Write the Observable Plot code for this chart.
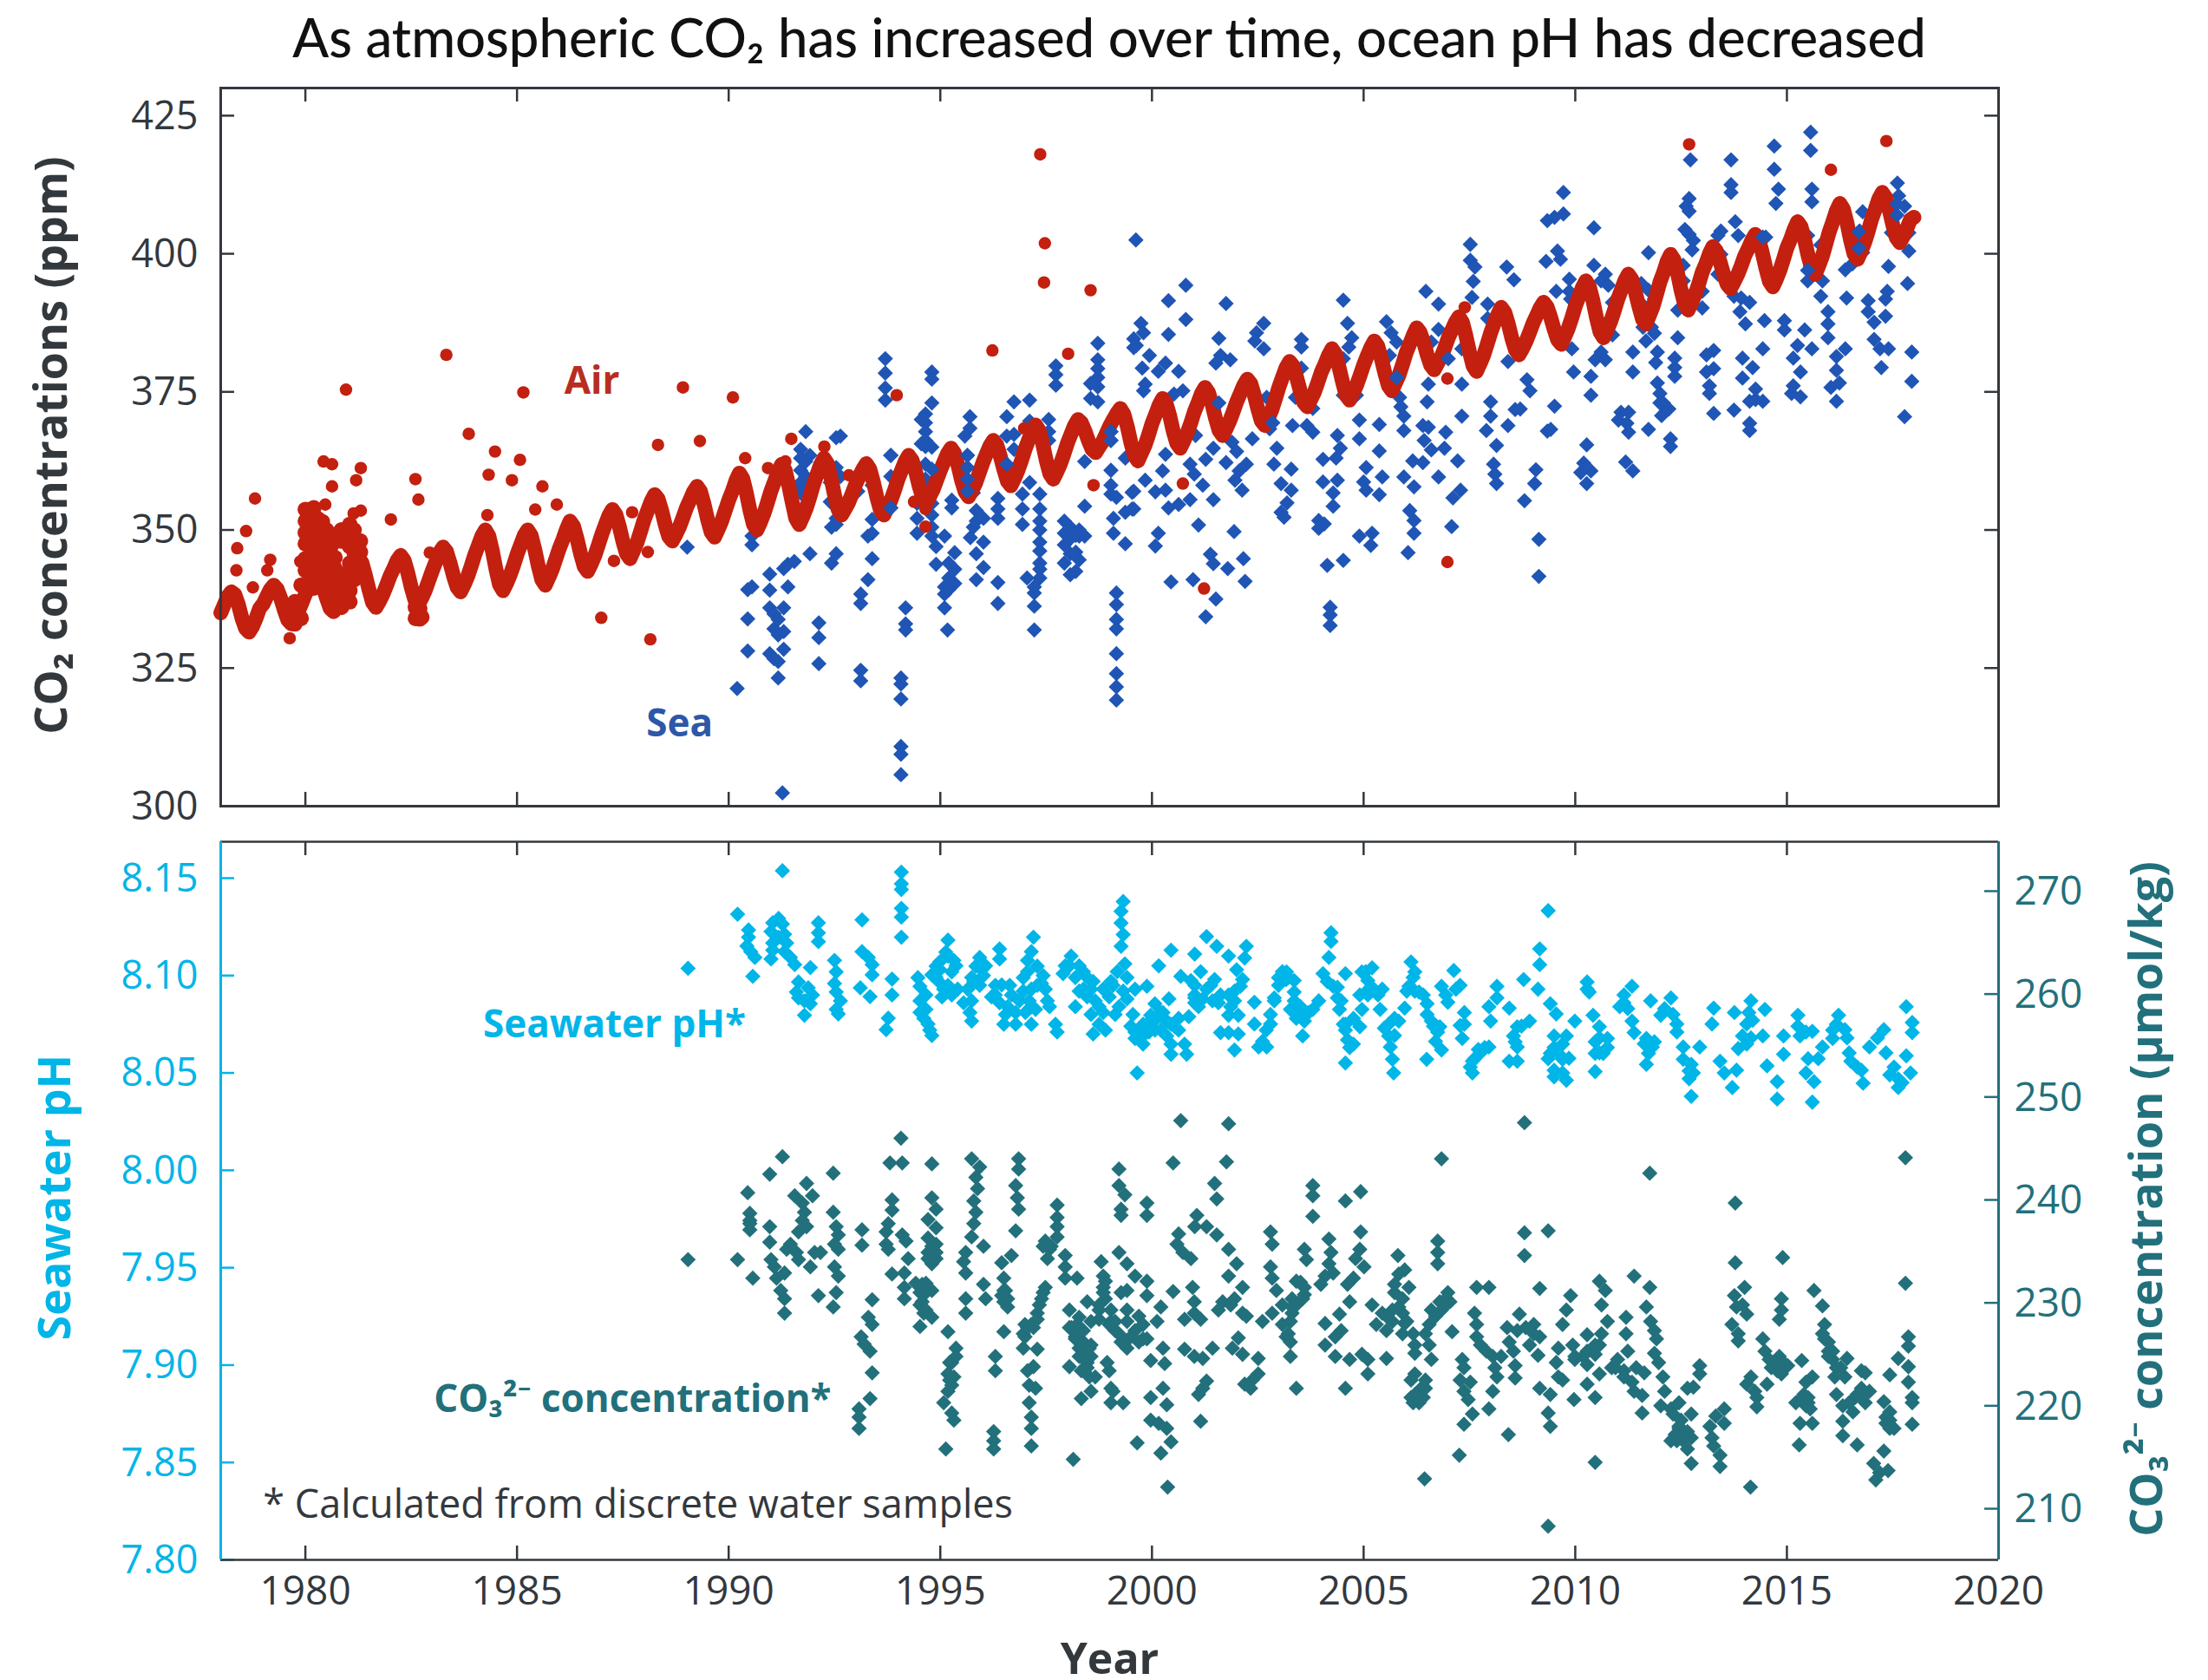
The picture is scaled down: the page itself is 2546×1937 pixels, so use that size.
<!DOCTYPE html>
<html>
<head>
<meta charset="utf-8">
<script src="https://cdn.jsdelivr.net/npm/d3@7"></script>
<script src="https://cdn.jsdelivr.net/npm/@observablehq/plot@0.6"></script>
<style>
html,body{margin:0;padding:0;background:#fff;overflow:hidden}
#page{position:relative;width:2546px;height:1937px}
#page svg{position:absolute;left:0;top:0}
#title{position:absolute;left:6px;width:2546px;text-align:center;top:5px;font:500 61.6px Lato,sans-serif;color:#111}
</style>
</head>
<body>
<div id="page"><div id="title">As atmospheric CO₂ has increased over time, ocean pH has decreased</div></div>
<script>
const yearTicks = [1980,1985,1990,1995,2000,2005,2010,2015,2020];
const ppmTicks = [300,325,350,375,400,425];
const phTicks = [7.80,7.85,7.90,7.95,8.00,8.05,8.10,8.15];
const co3Ticks = [210,220,230,240,250,260,270];

// Air: monthly values, January onward
const air1978 = [335,336.5,338,338.8,338.3,336.5,334,332.2,331.5,332.5,334,335.8, 336.6,337.9,339.2,340,339.3,337.6,335.5,333.7,333,334.1,335.3,336.8, 338.4,339.8,341,342,341.3,339.6,337.6,335.8,335.2,336.4,337.6,339.3, 341,342.4,344,345,344.1,341.8,339.2,336.9,336,337.1,338.4,340, 341.7,343,344.5,345.4,344.5,342.3,339.6,337.4,336.5,337.7,339.1,340.9, 342.7,344.3,345.9,346.9,346.1,344,341.6,339.6,338.8,340.1,341.6,343.5, 345.5,347.2,348.9,350,348.9,346.2,342.9,340.1,339,340.3,341.8,343.6, 345.6,347.3,349,350,349,346.5,343.5,341,340,341.4,342.9,344.8, 346.7,348.3,350.1,351.6,350.7,348.4,345.7,343.4,342.5,343.8,345.3,347.2, 349.2,350.9,352.6,353.7,352.8,350.6,347.9,345.7,344.8,346.2,347.7,349.7];
const air1988 = [351.8,353.5,355.2,356.4,355.6,353.5,350.9,348.8,348,349.2,350.5,352.2, 354,355.4,356.9,357.9,357,354.7,351.9,349.6,348.7,350.1,351.6,353.5, 355.4,357,358.9,360.3,359.3,356.7,353.6,351,350,351.4,353,355, 357.1,358.8,360.6,361.9,360.8,358.1,355,352.1,351,352.4,354,356, 358.2,360,361.8,363,362,359.4,356.3,353.7,352.7,353.8,355,356.6, 358.3,359.7,361,362,361,358.7,355.9,353.6,352.7,354,355.4,357.2, 359.2,360.8,362.4,363.5,362.6,360.5,357.9,355.8,354.9,356.1,357.4,359.1, 360.8,362.3,363.8,364.8,363.9,361.7,359,356.9,356,357.2,358.5,360.3, 362.1,363.7,365.2,366.2,365.4,363.3,360.9,358.8,358,359.3,360.8,362.6, 364.6,366.3,367.9,369,368,365.6,362.6,360.2,359.2,360.5,361.9,363.7];
const air1998 = [365.7,367.3,368.9,370,369.4,367.9,366.1,364.6,364,365,366,367.4, 368.8,370,371.1,372,371,368.7,365.8,363.5,362.5,363.9,365.3,367.2, 369.3,370.9,372.6,373.8,372.9,370.7,367.9,365.7,364.8,366.1,367.6,369.4, 371.4,373,374.7,375.8,374.9,372.8,370.2,368,367.1,368.3,369.7,371.4, 373.2,374.7,376.2,377.3,376.5,374.4,371.9,369.7,368.9,370.3,371.8,373.8, 375.9,377.7,379.4,380.5,379.7,377.6,375.2,373.1,372.3,373.6,374.9,376.7, 378.6,380,381.6,382.8,381.9,379.5,376.8,374.4,373.5,374.8,376.2,378, 379.9,381.5,383,384.2,383.3,381,378.4,376.1,375.2,376.6,378,379.9, 382,383.6,385.2,386.6,385.8,384,381.7,379.8,379,380.2,381.4,383, 384.8,386.2,387.6,388.6,387.6,385.1,382.2,379.7,378.7,380.1,381.6,383.6];
const air2008 = [385.7,387.4,389,390.3,389.4,387.3,384.7,382.6,381.7,382.8,384.1,385.7, 387.4,388.8,390.2,391.2,390.4,388.5,386.3,384.4,383.6,385,386.5,388.4, 390.5,392.2,393.9,395.1,394,391.5,388.4,385.8,384.8,386.2,387.7,389.6, 391.7,393.4,395.1,396.3,395.4,393.1,390.5,388.2,387.3,388.8,390.4,392.6, 394.9,396.6,398.6,399.9,398.9,396.4,393.3,390.8,389.8,391.2,392.7,394.6, 396.7,398.2,400,401.3,400.5,398.6,396.4,394.5,393.7,394.9,396.2,397.8, 399.6,400.9,402.4,403.5,402.6,400.2,397.4,395,394,395.4,397,399, 401.1,402.6,404.4,405.8,404.9,402.5,399.6,397.3,396.3,397.8,399.5,401.7, 404,405.8,407.8,409.1,408.1,405.6,402.5,400,399,400.4,402,404, 406.3,408,409.9,411.1,410.2,407.9,405.2,402.9,402,403.2,404.6,406.2, 406.6];
// Air: rows of [year, ppm, ppm, ...]
const airCluster = [[1979.75,333,335,337],[1979.9,334,337,340],[1980,353.7,351.6,349.5,347.5,344.8,342.7],[1980.1,353.7,352,350,347,345,342,340],[1980.2,354,351.5,349,346.5,344,341.5,339.5],[1980.3,352,350,348,345,343,341],[1980.4,351.5,349,347,345,342,340],[1980.5,350,348,346,344,341],[1980.6,349,347,344,342,339],[1980.7,348,345,343,341,339],[1980.85,350,348,342,340,338,336],[1981.05,351,349,347,344,341,339,337],[1981.15,350,348,346,343,341],[1981.3,348,346,344,342],[1982.6,338,336,334],[1982.7,335.7,333.9],[1982.75,334.2]];
const airOutliers = [[1978.81,355.7],[1978.6,349.8],[1978.39,346.7],[1978.37,342.7],[1978.76,339.6],[1979.17,344.6],[1979.1,342.7],[1979.63,330.4],[1979.88,344.3],[1980.96,375.4],[1980.43,362.4],[1980.63,361.9],[1981.31,361.2],[1981.2,359],[1980.63,357.9],[1980.47,354.6],[1981.14,353],[1981.31,353.5],[1982.6,359.2],[1982.67,355.5],[1982.02,351.9],[1982.94,345.9],[1983.33,381.7],[1983.86,367.4],[1984.48,364.2],[1985.07,362.7],[1984.33,360],[1984.88,359],[1985.6,357.9],[1985.43,353.7],[1985.94,354.6],[1985.15,374.9],[1986.99,334.1],[1988.15,330.2],[1988.92,375.8],[1990.1,374],[1988.33,365.4],[1989.32,366.1],[1987.29,344.4],[1988.09,346],[1987.72,353.2],[1984.3,352.7],[1996.23,382.5],[1998.02,381.9],[1993.97,374.4],[1991.48,366.5],[1990.39,363],[1990.93,361.2],[1991.34,362.4],[1992.26,365.1],[1992.84,359.9],[1998.62,358.1],[1994.65,350.6],[1996.98,368.4],[1994.38,355.1],[1994.65,353.8],[1997.36,418],[1997.47,401.9],[1997.45,394.8],[1998.55,393.4],[2000.73,358.4],[2001.23,339.4],[2006.98,344.2],[2006.98,377.4],[2007.39,390.3],[2012.69,419.8],[2016.04,415.2],[2017.35,420.4]];

// Sea: rows of [year, ppm, ppm, ...]
const seaEarly = [[1989.02,346.9],[1990.2,321.3],[1990.45,339.2,333.9,328.1],[1990.55,348.9,347.3,339.7],[1990.97,342,339.1,335.9,327.6],[1991.07,334.8,332.1,326.7],[1991.17,333.8,331,326.2,323.2],[1991.3,343,335.9,331.6,328.4],[1991.4,343.8,339.7],[1991.55,344.3],[1991.27,302.4],[1991.6,352.7,357],[1991.7,364.6,363,360.8,358.6,356.7],[1991.82,367.8,362.4,359.7,357.6,355.9],[1991.92,345.7,363.5,357.6],[1992.13,333.2,330.5,325.8],[1992.43,350.5,344],[1992.54,366.7,361.3,352.1,351,345.7],[1992.64,367,359.7],[1992.4,358.6,355.1],[1993.12,338.4,336.7,324.6,322.7],[1993.29,348.9,341,361.9],[1993.39,351.9,349.4,344.8,358.1],[1993.05,357],[1993.7,381,378.4,375.7,373.5],[1993.83,363.5,359.7,354],[1994.07,323.2,322.1,319.4,310.8,309.4,305.7],[1994.18,335.9,333,331.9],[1994.45,354.8,352.1,349.4],[1994.8,378.6,377.3,373],[1994.65,371,369.4,367.8,366.2,365.1,361.9,359.2],[1994.55,370,365.6],[1994.8,354.8,352.7,350.5,348.9],[1994.9,347,343.8],[1995.1,348.9,335.9,338.4,339.7],[1995.17,331.9],[1995.2,344,341.3,339.2],[1995.34,345.9,342.9,340.3],[1995.27,355.4,354],[1995.7,370.5,368.4],[1995.58,367],[1995.64,363.5,361.3,359.2,357,356.2],[1995.78,356.7,350.5],[1995.85,353.5,351.6,345.7,341],[1995.71,348.6],[1996.02,352.1,347.8,343.2],[1996.36,340.5,336.7,355.7,353.8,352.1],[1996.57,370.5,367,361.9,359.7],[1996.74,373.2,367.3,364.6],[1997.11,373.5,369.7,358.6],[1996.94,356.5,353.8,351],[1997.35,356.5,353.8,351.6,350,347.8,346.2,344,342.9,341.3],[1997.22,339.7,338.6,336.2,331.9],[1997.05,341.3],[1997.56,370,367.8,366.2],[1997.73,379.7,378.1,376.2],[1997.93,351.6,349.4,347.3,344],[1998.07,350.5,348.4,345.7,341.9],[1998.2,349,346,342.5],[1998.28,350,348.9,344.6],[1998.41,362.4,354.3,348.9],[1998.72,383.8,380.8,379.2,377.6,375.9,373.2],[1998.55,376.5,373.8],[1999.03,367.8,366.2,360.8,358.1,356.5],[1999.16,355.9,338.6,336.5,333.8,332.1,327.6,324,321.6,319.2],[1999.09,352.1,349.4],[1999.37,363,353.2,347.5],[1999.57,384.6,383,357,353.8]];
const seaMid = [[1999.62,402.5],[1999.74,387.4],[1999.63,383.4],[1999.8,385.7],[1999.94,381.6],[1999.77,379.3],[1999.84,376.4],[1999.8,375.2],[2000.15,378.7],[2000.32,380.2],[2000.63,378.7],[2000.39,391.5,385.4],[2000.8,394.3,388.1],[2000.73,375.2],[2000.52,374.6],[2000.32,363.7],[2000.25,360.7],[1999.84,359],[2000.08,356.9],[2000.32,357.2],[1999.53,356.8,353.8],[2000.39,354],[2000.63,354.6],[2000.9,355.5,361.9],[2000.15,349.4],[2000.08,347.1],[2001.1,350.9],[2000.45,340.6],[2000.97,341],[2001.38,345.6],[2001.45,343.9],[2001.51,337.5],[2001.27,334.3],[2001.79,343],[2002.16,344.8],[2002.2,340.7],[2001.94,349.7],[2001.45,355.5,364.8],[2001.2,358.1],[2001,360.1],[2001.27,362.8],[2001.03,367.1],[2001.75,362.2,391],[2001.89,365.9],[2002,364.2],[2002.06,360.7],[2001.96,359],[2002.13,357.2],[2002.23,361.9],[2001.58,384.7],[2001.62,381.6],[2001.51,380.2],[2001.85,380.8],[2002.64,387.4,382.8],[2002.47,385.7],[2002.43,384.2],[2003.53,384.5,383.1,379.3],[2002.37,366.5],[2002.95,364.8],[2002.88,361.9],[2003.29,361,357.2],[2003.05,358.4,353.2],[2003.19,354.9],[2003.12,352.3],[2002.71,374],[2002.85,369.4],[2002.78,368.3],[2003.39,374],[2003.32,368.9],[2003.66,368.9],[2003.8,367.7,372],[2004.52,391.6,381,374.4,344.5],[2004.62,387.4],[2004.72,384.8],[2004.65,383.1],[2004.9,377.6,369.9,366.5,348.9],[2004.83,374.4],[2005.37,369.1,364.3,356.4],[2004.38,367.1,359],[2004.45,364.8],[2004.35,363],[2004.04,362.8,358.7],[2005.06,361.3,357.2],[2005.44,359.6],[2005,358.7],[2004.28,356.7,354.3],[2003.94,351.7,350.3],[2004.07,351.1],[2005.2,349.4],[2005.17,347.2],[2004.14,343.6],[2004.21,336,334.6,332.7],[2005.54,387.7],[2005.65,385.7],[2005.78,384,377.6],[2005.61,381.6],[2005.85,374],[2005.88,372.3],[2005.95,370.6,368,359.6],[2006.16,362.5],[2006.4,362.2,368.9],[2006.19,357.8,351.7,349.4],[2006.09,353.5],[2006.05,345.9],[2006.47,393.2],[2006.77,390.9,386.3,359.6],[2006.6,384,364.5],[2006.53,376.4,368.6],[2006.5,373.2],[2006.43,366.2],[2006.94,367.7],[2006.91,364.8],[2007.22,362.5],[2007.29,357.2],[2007.11,355.8],[2007.08,350.6],[2007.32,376.4,370.6,382.8],[2007.52,401.7,398.8],[2007.63,397.6],[2007.59,395],[2007.56,392.1],[2007.93,390.9,388.3],[2008,373.2,370.6],[2007.9,368],[2008.14,365.3,358.4],[2008.07,361.9],[2008.1,360.1],[2008.41,380.5,368.9],[2008.58,371.8],[2008.55,395.3],[2008.38,397.6]];
const seaLate = [[2009.72,411.1],[2009.34,406],[2009.51,406.6],[2009.72,407.2,385],[2009.31,398.6],[2009.58,400.5],[2009.65,399],[2010.44,404.7,397.9],[2009.86,395.4,393.2],[2009.55,393.2,385],[2009.89,391.8],[2009.92,382.8],[2008.86,377.2],[2008.93,375.2],[2009.96,378.6],[2009.51,372.4],[2009.34,367.9],[2009.42,368.2],[2009.07,360.9],[2009.04,358.4],[2008.8,355.3],[2009.14,348.3,341.6],[2008.7,371.9],[2010.71,396.3,380.8],[2010.61,395.1,382.2],[2010.78,394.3],[2010.88,391.2,385.3],[2010.85,388.4],[2010.64,386.4],[2010.47,380.8],[2010.37,377.8,374.4,360.7],[2010.27,365.4,358.4],[2010.2,362.1],[2010.13,360.4],[2011.08,371.3],[2011.26,371.3,367.7],[2011.02,369.9],[2011.22,369.3],[2011.19,362.3],[2011.36,360.7,382.2,378.6],[2011.73,368.2,400.2,393.4],[2012.25,366.5,365.1],[2011.94,382.2,376.6],[2011.9,380.3],[2012,374.7],[2012.08,373],[2012.04,370.7],[2012.21,371.9],[2012.35,381.1,379.4,377.8],[2011.56,394.6],[2011.6,390.7,386.7],[2011.87,391.8,385.6],[2011.8,386.7],[2011.67,384.2],[2012.42,389.8,384.8],[2012.72,417],[2012.69,410,407.7,403.5],[2012.62,408.6],[2012.59,404.4],[2012.79,402.4],[2012.76,400.7],[2012.55,397.9,395.1,393.2],[2013,393.2,390.2],[2013.68,417,412.5,411.1],[2013.44,404.1,399.9],[2013.37,403.3,396.3],[2013.78,405.8],[2013.85,403.3],[2013.75,392.3,371.7],[2013.92,392],[2014.12,391.2,373.3,369.3,368],[2013.89,389.5],[2014.02,387.3],[2014.47,387.9],[2014.43,382.8,373.3],[2013.27,382.5,379.2,371.1],[2013.1,381.7,378.6],[2013.17,376.1,374.7],[2013.95,381.1,377.5],[2014.19,379.4],[2014.26,375.5,373.6],[2014.7,419.5,415.3],[2014.8,411.7],[2014.74,409.1],[2014.5,403],[2015.56,422,418.7],[2015.59,411.7,409.4,382.8],[2015.49,403.3,400.2,395.1],[2015.56,397.7],[2015.8,401.6,392.3],[2015.84,395.1],[2015.97,389.5,387.3,384.8],[2016.41,392],[2014.94,387.9,386.2],[2015.42,386.2],[2015.25,383.4],[2015.15,381.1,376.1],[2015.32,378.6,374.1],[2015.11,374.7],[2016.38,382.8,397.1],[2016.17,381.4,378.9,373.3],[2016.24,376.6],[2016.04,375.8],[2016.79,407.6,400.2],[2016.72,404.1],[2016.62,401.9],[2016.55,398.2],[2016.92,391.5,389.5],[2017.06,387.6,384.5],[2017.2,382.8],[2017.4,382.8,397.7],[2017.23,379.4],[2017.37,393.2],[2017.33,391.8,388.7],[2017.61,412.8],[2017.64,410.5],[2017.5,408.6],[2017.78,408.6,370.5],[2017.47,403.8],[2017.88,403.8,400.5],[2017.85,394.6],[2017.95,382.2,376.9]];
const seaOnTop = [[1995.64,363.5,361.3,359.2,357],[1993.83,363.5,354],[1994.8,365,361],[1996.57,361.9],[1999.03,367.8,366.2],[2001.58,373],[2002.85,369.4],[2005.78,377.6],[2007.0,381],[2012.0,373],[2014.43,403],[2015.49,397],[2016.7,404,401],[2017.6,409,407]];

// Seawater pH: rows of [year, pH, pH, ...]
const phEarly = [[1989.04,8.1037],[1990.21,8.1315],[1990.47,8.1234,8.1197],[1990.43,8.1152],[1990.52,8.1123],[1990.62,8.1093],[1990.57,8.0996],[1991.18,8.1293,8.1197],[1991.04,8.1271,8.1167,8.113],[1991.27,8.1264,8.1538],[1991,8.1226,8.1085],[1991.32,8.1212,8.1123],[1991.37,8.1167],[1991.46,8.1093],[1991.56,8.1056],[1992.12,8.1271,8.1219,8.1174],[1991.93,8.1041,8.0855],[1991.65,8.0967,8.0885],[1991.6,8.0915],[1991.88,8.0937],[1991.98,8.09],[1991.79,8.087,8.0796],[1992.5,8.1078,8.0959],[1992.54,8.1019,8.0915,8.0826],[1992.64,8.087],[1992.59,8.0803],[1993.15,8.1286,8.1123],[1993.3,8.1093],[1993.39,8.1056,8.1004],[1993.11,8.0937],[1993.34,8.0892],[1993.86,8.0982,8.09],[1993.77,8.0781],[1993.72,8.0722],[1994.08,8.1531,8.1471,8.1442,8.1345,8.13,8.1197],[1994.47,8.0989],[1994.52,8.0944,8.0811],[1994.9,8.1048],[1994.8,8.1004,8.0692],[1994.66,8.09,8.0826],[1994.71,8.0751],[1995.18,8.1182,8.11],[1994.99,8.1071],[1995.32,8.1078],[1995.27,8.1019,8.09],[1994.94,8.0974],[1995.08,8.093],[1995.93,8.1093],[1995.84,8.1048],[1995.74,8.099,8.087,8.0766],[1996.02,8.1],[1995.65,8.093],[1995.7,8.081],[1996.4,8.1137,8.1085],[1996.45,8.0952],[1996.3,8.09],[1996.59,8.084],[1996.5,8.075],[1996.78,8.075,8.081],[1996.68,8.09],[1997.2,8.1197],[1997.15,8.1123,8.093,8.075],[1997.06,8.1078],[1997.29,8.1048],[1996.96,8.0989],[1997.39,8.096],[1997.1,8.087],[1997.25,8.0826],[1997.58,8.084],[1997.72,8.075],[1997.76,8.071],[1998.09,8.11],[1998.05,8.105],[1997.9,8.101],[1998.19,8.099,8.084],[1998.47,8.099,8.089],[1998.61,8.097,8.07],[1998.38,8.093],[1998.66,8.087],[1998.56,8.08],[1998.75,8.075],[1998.9,8.072]];
const phMid = [[1999.32,8.138,8.121,8.092],[1999.27,8.133,8.127,8.115],[1999.36,8.106],[1999.18,8.102],[1999.41,8.099],[1999.08,8.095],[1998.99,8.089],[1999.22,8.084],[1999.13,8.08],[1999.55,8.08],[1999.65,8.05],[1999.88,8.0945,8.0751],[2000.16,8.105],[2000.45,8.113,8.0648,8.0596],[2000.68,8.0996],[2001.01,8.111],[2001.29,8.12],[2001.53,8.115],[2001.81,8.11],[2002.23,8.115],[2002.19,8.109],[2002,8.103],[2001.15,8.102],[2001.48,8.098],[2000.07,8.0855,8.072],[2000.21,8.081],[1999.69,8.0707],[1999.6,8.0677],[1999.79,8.0648],[2000.35,8.0766,8.069],[2000.63,8.078],[2000.87,8.0789],[2000.54,8.0737],[2000.77,8.0648],[2000.82,8.0596],[1999.97,8.0796],[2000.92,8.0974],[2001.01,8.09,8.0886],[2001.1,8.084],[2001.29,8.093],[2001.43,8.087],[2001.62,8.09],[2001.81,8.09,8.0796,8.0707],[2002.09,8.0945],[2001.95,8.087],[2002.04,8.0796,8.0700],[2001.62,8.0707],[2001.95,8.0618],[2002.42,8.0863],[2002.42,8.0751],[2002.61,8.0662],[2002.71,8.0633],[2002.52,8.0633],[2002.99,8.0989],[2003.18,8.1019],[2002.89,8.0885],[2002.8,8.0751],[2003.36,8.0974],[2003.27,8.0826],[2003.22,8.099],[2003.36,8.0915,8.087],[2003.46,8.081],[2003.8,8.0826],[2003.6,8.0766],[2003.56,8.069]];
const phLate = [[2004.23,8.122,8.1175],[2004.18,8.1093],[2004.04,8.101],[2004.57,8.101,8.075,8.0551],[2004.28,8.0945],[2004.38,8.0885],[2004.43,8.0826],[2004.76,8.078,8.0648],[2004.52,8.075],[2004.91,8.0737],[2004.62,8.067],[2004.96,8.1019,8.0826],[2005.2,8.104],[2005.1,8.0974],[2005.05,8.0915],[2005.44,8.093],[2005.39,8.0826],[2005.97,8.0833],[2005.83,8.0766],[2005.49,8.073],[2005.73,8.0692],[2005.63,8.0633],[2005.68,8.057],[2005.71,8.05],[2006.12,8.107],[2006.21,8.1019],[2006.07,8.0945],[2006.31,8.0915],[2006.5,8.0855],[2006.6,8.0766],[2006.8,8.0737],[2006.7,8.0662],[2006.84,8.0618,8.0945],[2006.49,8.057],[2007.13,8.1026],[2007.28,8.095,8.0744],[2006.99,8.0863],[2007.38,8.081],[2007.33,8.0677],[2008.15,8.0945,8.0885],[2007.96,8.084,8.0633],[2008,8.0766],[2008.44,8.0833,8.056],[2008.92,8.0766],[2008.63,8.0737,8.0633,8.056],[2008.54,8.069],[2007.76,8.0603],[2007.62,8.0573],[2007.57,8.05],[2008.78,8.098],[2009.16,8.1137,8.1056],[2009.12,8.093],[2009.41,8.0855],[2009.55,8.0803],[2009.99,8.0766],[2009.5,8.069,8.0514],[2009.7,8.0648,8.0499],[2009.36,8.0573,8.1333],[2009.79,8.0462],[2009.6,8.06],[2009.85,8.0575],[2010.28,8.0967],[2010.33,8.0915],[2010.42,8.0796],[2010.57,8.0737,8.0603],[2010.76,8.0677],[2010.47,8.0507],[2011.34,8.0945,8.0766],[2011.15,8.09],[2011.05,8.084],[2011.39,8.0707],[2011.78,8.087],[2012.26,8.0885],[2012.02,8.0796],[2011.68,8.0677,8.0544],[2011.82,8.0633],[2012.4,8.0751],[2012.55,8.0633],[2012.74,8.0544,8.038],[2012.69,8.047],[2012.94,8.0633],[2013.27,8.0833],[2013.23,8.0751],[2013.42,8.056],[2013.52,8.05],[2013.81,8.0514],[2013.71,8.0425],[2013.76,8.081],[2014.15,8.087],[2014.48,8.0826],[2014.05,8.0751,8.0648],[2014.43,8.069],[2013.85,8.0625],[2014.92,8.069,8.0596],[2014.53,8.0536],[2014.77,8.0455,8.0366],[2015.26,8.0796],[2015.6,8.0714,8.035],[2015.31,8.069],[2015.5,8.0573],[2015.74,8.0573],[2015.45,8.05],[2015.64,8.0455],[2016.22,8.0796],[2016.37,8.0722],[2016.08,8.0677],[2015.84,8.0633],[2016.47,8.0603],[2016.76,8.0514],[2016.8,8.0447],[2017.29,8.0722],[2016.95,8.0633],[2017.34,8.0603],[2017.53,8.053],[2017.63,8.0425],[2017.92,8.05],[2017.82,8.0588,8.084],[2017.96,8.0707,8.0759]];
const phDense1 = [[1994.52,8.087],[1994.61,8.078],[1994.75,8.072],[1994.9,8.099],[1994.99,8.103],[1995.13,8.112],[1995.37,8.105],[1995.04,8.089],[1995.18,8.095],[1995.41,8.093],[1995.55,8.086],[1995.79,8.097],[1996.07,8.105],[1995.93,8.095],[1995.98,8.103],[1996.3,8.095],[1996.21,8.089],[1996.4,8.086],[1996.64,8.095],[1996.54,8.08],[1996.87,8.087],[1996.96,8.092],[1997.06,8.102],[1997.29,8.095],[1997.43,8.1],[1997.48,8.093],[1997.01,8.081],[1997.15,8.084],[1997.53,8.087],[1999.5,8.074],[1999.79,8.075],[2000.07,8.077],[2000.26,8.081],[2000.45,8.075],[1999.74,8.068],[1999.93,8.071],[2000.21,8.072],[1999.6,8.071,8.093],[2000.63,8.072],[2000.4,8.088],[1999.03,8.097],[1999.41,8.088],[1998.85,8.093,8.081],[1998.75,8.084],[1998.56,8.093],[1998.28,8.105,8.092],[1998.38,8.102],[1997.95,8.105],[2001.01,8.095,8.086],[2001.2,8.088],[2001.39,8.095],[2001.57,8.086],[2001.95,8.092],[2002.14,8.098],[2001.86,8.084],[2002.99,8.095],[2003.08,8.102],[2003.17,8.098],[2002.89,8.087],[2002.8,8.08],[2002.7,8.072]];
const phDense2 = [[2003.51,8.084],[2003.41,8.078],[2003.7,8.081],[2003.94,8.087],[2004.14,8.097],[2004.38,8.094],[2004.47,8.087],[2004.57,8.072],[2004.67,8.063],[2004.91,8.09],[2005.1,8.09],[2005.05,8.102],[2005.2,8.094],[2005.34,8.09],[2005.59,8.069,8.075],[2005.73,8.078],[2006.17,8.099],[2006.21,8.092],[2006.02,8.092],[2006.41,8.09],[2006.5,8.08],[2006.65,8.074],[2006.75,8.071],[2006.94,8.09],[2007.18,8.093],[2007.38,8.075],[2007.71,8.062],[2007.86,8.063],[2007.57,8.056],[2007.52,8.053],[2008.58,8.066],[2008.73,8.074],[2009.5,8.063,8.048],[2009.79,8.069],[2009.7,8.057,8.05],[2009.41,8.06],[2010.57,8.068],[2010.76,8.063],[2010.47,8.066,8.06],[2010.66,8.06],[2010.28,8.093],[2011.15,8.086],[2011.24,8.083],[2011.63,8.065],[2011.73,8.06],[2011.87,8.066],[2012.11,8.083],[2012.31,8.08],[2012.4,8.071],[2012.55,8.057],[2012.69,8.051],[2012.79,8.05],[2014.1,8.081],[2013.95,8.069],[2014.15,8.068],[2014.19,8.077],[2015.26,8.074],[2015.45,8.071],[2016.17,8.075],[2016.08,8.072],[2016.42,8.068],[2016.51,8.056],[2016.66,8.053],[2017.14,8.068],[2017.72,8.045],[2017.63,8.047],[2017.43,8.049]];

// CO3 2- concentration: rows of [year, value, value, ...]
const co3Early = [[1989.04,234.2],[1990.21,234.2],[1990.45,240.7],[1990.5,238.7,238,237.7,237.1],[1990.57,232.4],[1990.97,242.5,237.4,235.9],[1991.27,244.2],[1991,234.2],[1991.08,233.5],[1991.32,232.9,230.4,229],[1991.13,232.4],[1991.23,231.2],[1991.46,235.7],[1991.37,235.2],[1991.6,234.9],[1991.56,240.4],[1991.74,239.7,238],[1991.84,241.6,237.4],[1991.98,240.4],[1991.79,238.8],[1991.65,236.9,234.2],[1991.93,233.5],[1992.03,234.9],[1992.17,234.9],[1992.12,230.7],[1992.47,242.6,238.8,229.6],[1992.54,237.4,231],[1992.59,236.6,235.2,232.6],[1992.5,235.7,233.5],[1993.15,237.1,235.6],[1993.39,230.3,227.9,223.2],[1993.3,228.6],[1993.13,226.7],[1993.2,226],[1993.34,225.3,220.7],[1993.08,219.7,218.9,217.8],[1994.07,246],[1993.81,243.6],[1994.1,243.6,236.6],[1993.86,240,239,232.8],[1993.77,237.7,235.2],[1993.72,236.9,235.7],[1994.19,236],[1994.24,234.3],[1994.15,232.9,231.5,230.4],[1994.8,243.5,240.2,233.8,231.2,228.6],[1994.9,239.1,237.3,235.7,234.9],[1994.71,238.1,236.3,234.9],[1994.42,231.9],[1994.66,231.9],[1994.52,231,229.8,227.7],[1994.61,229],[1995.18,227.2,221.4],[1995.37,225.6],[1995.22,224.2,222.5],[1995.32,222.8,218.6],[1995.08,220.3],[1995.27,219.3],[1995.13,215.8],[1995.6,230.4,229,234.9,232.9],[1995.74,244,236.4],[1995.93,243.2],[1995.84,242.2,238.8],[1995.88,241.1],[1995.79,239.9,237.7],[1996.02,235.5,231.8],[1995.55,234],[1996.07,230.4],[1996.3,224.8,223.4],[1996.26,217.5,216.6,215.8],[1996.5,227.2,232.4,230.1],[1996.54,231.2],[1996.59,229.6],[1996.45,233.9],[1996.68,234.6],[1996.85,244,243,239.1],[1996.78,241.4,237],[1996.82,240.2],[1997,227.9,226.7],[1997.15,227.9,218.9,217.8,216.1],[1997.29,229,225.5],[1997.39,230.4],[1997.48,231.5,236],[1996.96,225.6],[1997.06,223.4],[1997.2,223.8],[1997.1,222,220.3],[1997.25,221.7],[1997.76,239.5,238.3,237.4,236.4],[1997.58,235.2],[1997.53,234.3],[1997.95,234.6,233.5,232.4],[1998.23,232.4],[1998.05,229.3,223.8],[1998.14,214.8]];
const co3Mid = [[1998.1,227.6],[1998.19,226.7],[1998.28,225.6,228.6],[1998.38,224.8],[1998.56,224.8,225.9,221.4,228.2],[1998.47,224.2,230.1],[1998.33,223.4,220.7],[1998.52,222.8],[1998.66,222.8],[1999.03,221.7,220.3],[1998.8,234],[1998.85,232.6,231.5],[1998.9,230.4],[1998.75,228.4],[1998.99,227.9,223.4],[1998.94,224.2],[1999.08,221.4],[1999.32,220.3],[1999.22,243,241.4,234.9],[1999.36,240.5],[1999.27,239.1,238.5,231,226.2],[1999.88,239.7,238.5,232.1,230.7],[1999.41,233.8,231.2,229.3,225.6],[1999.6,232.6,227.3],[2000.21,229.6,215.4],[2000.12,228.2],[1999.13,227.3],[1999.79,226.5],[2000.5,243.6,231.1],[2000.68,247.7],[2001.81,247.4,235.2,232.6],[2001.76,243.7],[2001.48,241.6],[2001.53,240.1,236.6],[2001.06,238.5],[2001.01,237.4],[2001.29,237.4,222.4],[2000.63,236.7],[2000.59,235.7],[2000.73,234.9],[2000.92,234.3],[2002,233.8],[2002.14,231.5,229,225],[2001.95,230.4],[2001.67,230.1],[2001.57,229.3],[2001.86,229.8],[2002.23,228.7],[2000.96,231.5],[2001,230.1,229,224.8],[2000.77,228.4,225.5],[2001.15,228.4,218.5],[2000.26,225.6,221.7],[1999.97,224.4,220.8,218.6],[2000.3,224.1],[2000.35,220.1,217.8],[2000.16,218.3],[2000.45,216.5],[1999.65,216.4],[2000.37,212.1],[2001.2,224.6,221.7],[2001.43,225.6],[2001.1,221.1],[2002.04,226.6],[2001.9,225.6],[2002.51,224.6,223.1],[2002.37,222.5],[2002.19,222.1],[2002.33,221.7],[2003.41,221.7,232.1],[2002.8,236.9,233.5],[2002.84,235.7,232.4,229],[2002.94,231.2],[2002.61,228.2],[2003.08,229.8,227.9],[2003.31,230.4],[2003.17,226.7],[2003.27,224.8,228.2,226.2],[2003.22,227],[2003.51,232],[2003.6,235.2,230.8],[2003.65,234.2],[2003.8,241.4,240.4,238.4],[2004.18,236.2,233.8],[2004.23,234.9],[2004.09,232.6,228,225.9],[2003.99,231.8],[2004.28,232.9],[2004.57,239.9,221.7],[2004.93,240.8,236.9],[2004.91,235.2],[2004.81,234.3],[2005.01,233.5],[2004.76,232.4],[2004.62,231.8],[2004.67,230.1,224.5],[2004.43,228.9],[2004.47,227.3],[2004.33,226.7,224.8],[2004.96,225],[2005.1,224.5,223.1],[2005.54,224.6,227.3],[2005.2,229.8],[2005.3,227.9],[2005.44,229],[2005.68,229.3],[2005.83,229.6,232.8],[2005.97,233.2,228],[2005.81,234.6],[2005.73,231.8,231],[2006.07,231.5],[2005.92,230.4,227],[2006.75,236,234.9,233.8]];
const co3Late = [[2006.84,244,229.3],[2008.8,247.5,236.8,234.6],[2006.94,230.4],[2007.04,230.1],[2006.6,229.3,224.5],[2006.46,227,222.5],[2006.55,225.9],[2007.09,227.2],[2006.21,223.1,221.1],[2006.12,222.5,220.8],[2006.36,221.7],[2006.31,220.3],[2006.44,212.9],[2007.26,215.2],[2008.42,217.2],[2007.67,231.5,227.9,226.7],[2007.96,231.5,219.7],[2007.62,229],[2007.76,225.9],[2007.9,225.3],[2008.05,224.8,221.4],[2008.25,224.8],[2007.33,224.5],[2007.37,223.7,221.4,218.2],[2007.28,222.5],[2007.52,222.3],[2007.47,220.6],[2007.57,219.2],[2008.1,223.7],[2008.15,222.8],[2008.58,223.9,222.7],[2008.68,228.9],[2008.39,227.6],[2008.44,226.2],[2008.54,225.3],[2008.83,227.6],[2009.02,227.9],[2009.16,226.7,231.4,221.7],[2009.12,224.9],[2009.36,237,219.3,208.3],[2009.41,221.1,218],[2009.89,230.7],[2009.79,229.3],[2009.7,227.9,222.5],[2009.6,225.6,222.8],[2009.55,224.2],[2009.94,225.9],[2009.99,224.5],[2009.97,220.6],[2010.47,220.8,214.5,225],[2010.28,222.1,226.9,225.3,224],[2010.57,223.1,225.9,232.1],[2010.71,231.2],[2010.62,229.8,227],[2010.76,228.2],[2011.39,232.6,221.4],[2011.76,231.5,242.6],[2011.68,229.6],[2011.78,228.2],[2011.87,227.3,225.1],[2011.92,226.5],[2011.97,224.2],[2012.07,222.8],[2012.11,221.4],[2011.2,228.6,227],[2011.24,225.3],[2011,224.5],[2010.86,223.7],[2011.15,223.4],[2011.44,223.7],[2011.63,223.2],[2011.34,222.3],[2011.58,221,219.3],[2012.02,220],[2012.26,219.7,216.6],[2012.45,220.3,217.8],[2012.65,221.7,215.8],[2012.79,221.8],[2012.94,223.9,223.1],[2012.31,219.2],[2012.5,218.6],[2012.55,216.6],[2012.74,216.9,214.4,219.2],[2013.52,219.7,218.3],[2013.32,219],[2013.18,218],[2013.23,216.9],[2013.27,216.1],[2013.42,215.2,214.1],[2013.78,239.7,233.9],[2014,231.5],[2013.76,230.7],[2013.95,229.8],[2013.81,229.6],[2014.05,228.9,222.1],[2013.7,227.9],[2013.85,227,226.3],[2014.14,212.1],[2014.43,226.5],[2014.48,225.3],[2014.58,224.5],[2014.82,224.8,228.4],[2014.63,223.7],[2015.02,223.9],[2014.87,223.1,230.4,229.3],[2014.15,222.8],[2014.24,221.4],[2014.29,220.8,219.9],[2014.53,222.1],[2014.9,234.4],[2015.64,231.2],[2015.84,229.7],[2015.89,227.9,226.5],[2015.98,225.3],[2016.08,224.5],[2016.17,223.7,221.1],[2016.37,222.8],[2016.42,224.6],[2016.76,223.4,221.7],[2016.85,223.2,220.3],[2015.35,224.4],[2015.6,222.8,218.3],[2015.45,222.3],[2015.4,221.1],[2015.21,220.3],[2015.5,220.3],[2015.55,219.7],[2015.31,218.3],[2015.29,216.2],[2016.32,220,218.5,217.1],[2016.61,220.8],[2016.95,221.4],[2016.56,219.4],[2016.66,216.2],[2017.29,220.4,215.6],[2017.43,219.4,223],[2017.34,218.3],[2017.53,217.8],[2017.05,214.4],[2017.39,213.7],[2017.19,213.5],[2017.1,212.8],[2017.8,244.1,231.9],[2017.63,224.6],[2017.87,226.7,225.8,223.8,222.3],[2017.96,220.8,220.3,218.2]];
const co3Dense = [[1998.75,229.3,229.8],[1999.03,229.3,228.2],[1999.13,228.2],[1999.41,228.2],[1999.69,228.7,226.2],[1999.79,227.9],[1999.22,227],[1999.5,226.7],[1999.88,226.5],[1999.32,226.2],[1998.9,232.1],[1998.85,231],[1998.19,226.5],[1998.38,226.2,227.3],[1998.52,225.6],[1998.28,224.8],[1998.47,223.7],[1998.05,227.6],[1998.23,227.9],[1994.57,231.8,230.1],[1994.66,231,229.3],[1994.8,235.5],[1994.9,234.3],[1994.71,234.3],[1996.5,231.2],[1996.59,230.4],[1996.45,230.7],[1996.96,227],[1997.06,227.6],[1997.2,227.6],[1997.29,228.4],[1997.43,231,235.5],[1997.34,229.8],[1997.53,235.5],[1997.62,235.5],[1995.27,224.2,222],[1995.18,223.1],[1995.37,224.8],[2012.45,218],[2012.36,217.2],[2012.55,217.2],[2012.65,217.5],[2012.4,216.6],[2006.36,221.4],[2006.26,220.8],[2006.46,221.7],[2006.17,220.3],[2006.41,220.8],[2015.4,220.6],[2015.5,220.8],[2015.31,220.6],[2015.45,220],[2014.68,224.2],[2014.77,223.9,223.4],[2014.92,224.2],[2016.66,221.1],[2016.76,220.8],[2016.47,220.3],[2017.43,218.6,217.8],[2017.34,218.9],[2016.13,222.8],[2016.27,223.7],[2015.98,224.8,226.2],[2016.08,225.3],[2015.84,227],[2003.31,229,229.6],[2003.41,229.8],[2003.56,230.4],[2003.6,231.5],[2005.54,228.7],[2005.68,228.2],[2005.92,229],[2006.02,228.2],[2006.17,227],[2006.21,225.9,225.1],[2006.55,227.9],[2006.7,228.7],[2006.8,230.1],[2006.99,231],[2006.94,229.8],[2008.63,227.3],[2009.02,227],[2008.92,225.9],[2010.47,225.9],[2010.18,224.8],[2009.99,224.8],[2010.95,223.7],[2011.15,222.8]];

const airLabel = "Air", seaLabel = "Sea", phLabel = "Seawater pH*", co3Label = "CO₃²⁻ concentration*", noteLabel = "* Calculated from discrete water samples";
const ppmTitle = "CO₂ concentrations (ppm)", phTitle = "Seawater pH", co3Title = "CO₃²⁻ concentration (µmol/kg)", yearTitle = "Year";

const expand = rows => rows.flatMap(([x, ...ys]) => ys.map(y => ({x, y})));
const monthly = (start, vals) => vals.map((y, i) => ({x: start + (i + 0.5) / 12 - 0.04, y}));

const W = 2546, H = 1937, L = 254, R = W - 2304;
const dark = "#33383d", airC = "#c3200f", seaC = "#1f55b5", phC = "#00b5e8", co3C = "#22707b";
const font = "'Open Sans', 'Noto Sans', sans-serif";
const xDomain = [1978, 2020];
const tick = 16;
const svgStyle = {background: "transparent", fontFamily: font, overflow: "visible"};

const airBand = [...monthly(1978, air1978), ...monthly(1988, air1988), ...monthly(1998, air1998), ...monthly(2008, air2008)];
const seaAll = expand([...seaEarly, ...seaMid, ...seaLate]);
const phAll = expand([...phEarly, ...phMid, ...phLate, ...phDense1, ...phDense2]);
const co3All = expand([...co3Early, ...co3Mid, ...co3Late, ...co3Dense]);

function xTickRules(frameH) {
  return [
    Plot.ruleX(yearTicks, {stroke: dark, strokeWidth: 2.5, insetBottom: frameH - tick}),
    Plot.ruleX(yearTicks, {stroke: dark, strokeWidth: 2.5, insetTop: frameH - tick})
  ];
}

// top panel
const topTop = 101, topBottom = 929;
const topPanel = Plot.plot({
  width: W, height: H, marginLeft: L, marginRight: R, marginTop: topTop, marginBottom: H - topBottom, style: svgStyle,
  x: {domain: xDomain, axis: null},
  y: {domain: [300, 430]},
  marks: [
    Plot.dot(seaAll, {x: "x", y: "y", symbol: "diamond2", r: 8, fill: seaC}),
    Plot.line(airBand, {x: "x", y: "y", stroke: airC, strokeWidth: 17, strokeLinejoin: "round", strokeLinecap: "round"}),
    Plot.dot(expand(airCluster), {x: "x", y: "y", r: 9, fill: airC}),
    Plot.dot(expand(airOutliers), {x: "x", y: "y", r: 7.2, fill: airC}),
    Plot.dot(expand(seaOnTop), {x: "x", y: "y", symbol: "diamond2", r: 8, fill: seaC}),
    ...xTickRules(topBottom - topTop),
    Plot.ruleY(ppmTicks, {stroke: dark, strokeWidth: 2.5, insetRight: 2050 - tick}),
    Plot.ruleY(ppmTicks, {stroke: dark, strokeWidth: 2.5, insetLeft: 2050 - tick}),
    Plot.frame({stroke: dark, strokeWidth: 3}),
    Plot.axisY(ppmTicks, {tickSize: 0, tickPadding: 26, fontSize: 45, fill: dark, label: null, dy: 1}),
    Plot.text([ppmTitle], {frameAnchor: "left", rotate: -90, textAnchor: "middle", dx: -194, dy: -2, fontSize: 52, fontWeight: 700, fill: dark}),
    Plot.text([airLabel], {x: () => 1986.77, y: () => 376.8, fontSize: 44, fontWeight: 700, fill: "#b92d20"}),
    Plot.text([seaLabel], {x: () => 1988.84, y: () => 314.8, fontSize: 44, fontWeight: 700, fill: "#2d57a8"})
  ]
});
document.getElementById("page").appendChild(topPanel);

// bottom panel, left scale
const botTop = 970, botBottom = 1798;
const frameB = botBottom - botTop;
const phPanel = Plot.plot({
  width: W, height: H, marginLeft: L, marginRight: R, marginTop: botTop, marginBottom: H - botBottom, style: svgStyle,
  x: {domain: xDomain},
  y: {domain: [7.8, 8.1687]},
  marks: [
    Plot.dot(phAll, {x: "x", y: "y", symbol: "diamond2", r: 8, fill: phC}),
    ...xTickRules(frameB),
    Plot.ruleY(phTicks, {stroke: phC, strokeWidth: 2.5, insetRight: 2050 - tick}),
    Plot.axisY(phTicks, {tickSize: 0, tickPadding: 26, fontSize: 45, fill: phC, label: null, tickFormat: d3.format(".2f"), dy: 1}),
    Plot.axisX(yearTicks, {tickSize: 0, tickPadding: 19, fontSize: 46, fill: dark, label: null, tickFormat: d3.format("d")}),
    Plot.ruleY([7.8, 8.1687], {stroke: dark, strokeWidth: 2.5}),
    Plot.ruleX([1978], {stroke: phC, strokeWidth: 3}),
    Plot.text([phTitle], {frameAnchor: "left", rotate: -90, textAnchor: "middle", dx: -190, dy: -4, fontSize: 52, fontWeight: 700, fill: phC}),
    Plot.text([yearTitle], {frameAnchor: "bottom", dy: 131, fontSize: 50, fontWeight: 700, fill: dark}),
    Plot.text([phLabel], {x: () => 1987.3, y: () => 8.0747, fontSize: 44, fontWeight: 700, fill: phC}),
    Plot.text([noteLabel], {x: () => 1979.0, y: () => 7.828, fontSize: 45, textAnchor: "start", fill: dark})
  ]
});
document.getElementById("page").appendChild(phPanel);

// bottom panel, right scale
const co3Panel = Plot.plot({
  width: W, height: H, marginLeft: L, marginRight: R, marginTop: botTop, marginBottom: H - botBottom, style: svgStyle,
  x: {domain: xDomain, axis: null},
  y: {domain: [205.03, 274.8], axis: null},
  marks: [
    Plot.dot(co3All, {x: "x", y: "y", symbol: "diamond2", r: 8, fill: co3C}),
    Plot.ruleY(co3Ticks, {stroke: co3C, strokeWidth: 2.5, insetLeft: 2050 - tick}),
    Plot.ruleX([2020], {stroke: co3C, strokeWidth: 3}),
    Plot.axisY(co3Ticks, {anchor: "right", tickSize: 0, tickPadding: 18, fontSize: 46, fill: co3C, label: null, dy: 1}),
    Plot.text([co3Title], {frameAnchor: "right", rotate: -90, textAnchor: "middle", dx: 172, dy: -2, fontSize: 52, fontWeight: 700, fill: co3C}),
    Plot.text([co3Label], {x: () => 1987.73, y: () => 220.6, fontSize: 44, fontWeight: 700, fill: co3C})
  ]
});
document.getElementById("page").appendChild(co3Panel);
</script>
</body>
</html>
